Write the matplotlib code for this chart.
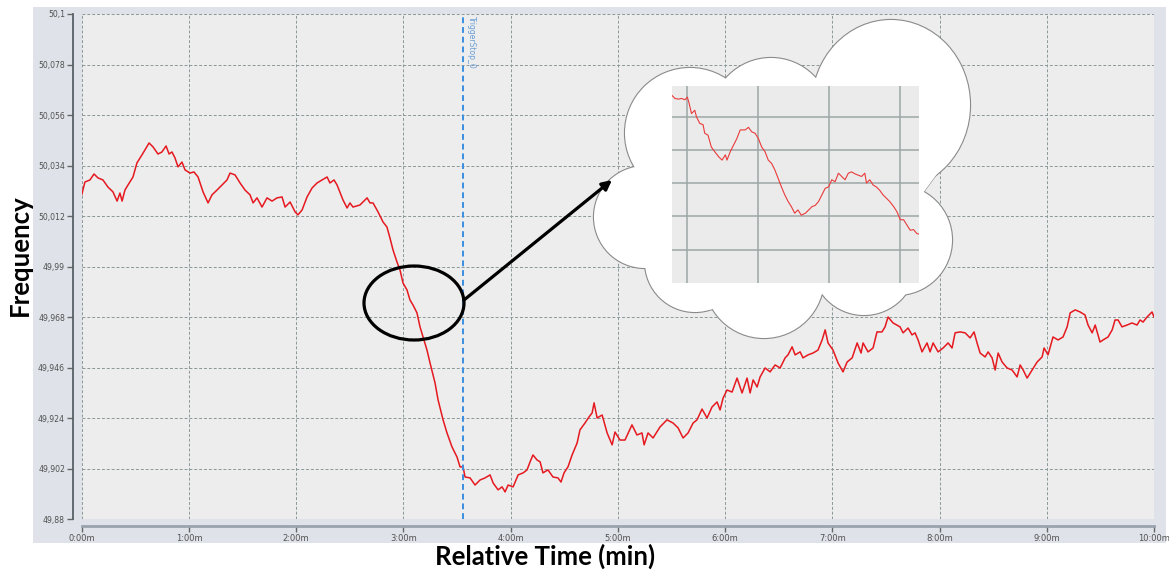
import numpy as np
import matplotlib.pyplot as plt
from matplotlib.patches import Circle, Ellipse, Polygon

#tick label styles
plt.rc('xtick', labelsize=6, color='#666666', labelcolor='#505050')
plt.rc('ytick', labelsize=5.6, color='#666666', labelcolor='#505050')

# frequency trace, time in seconds after start, frequency in Hz
time_s = [0.0, 1.8, 4.6, 6.9, 9.1, 11.9, 14.7, 17.5, 19.8, 21.4,
          22.6, 24.2, 25.9, 28.7, 30.9, 33.7, 37.7, 39.9, 42.7, 44.9,
          47.2, 48.9, 50.5, 52.2, 53.9, 56.1, 57.8, 60.6, 62.8, 65.1,
          67.9, 70.7, 72.9, 75.7, 78.5, 81.3, 83.0, 85.8, 88.6, 91.4,
          94.2, 95.9, 98.1, 100.9, 103.7, 106.5, 109.3, 112.1, 113.8, 116.6,
          119.4, 121.0, 123.3, 126.1, 128.9, 131.7, 134.5, 137.3, 138.9, 141.2,
          142.9, 146.2, 148.5, 150.1, 151.8, 155.7, 159.7, 161.3, 163.0, 165.8,
          168.6, 170.8, 172.5, 174.2, 176.4, 178.1, 179.8, 182.0, 183.7, 185.4,
          187.6, 189.3, 191.0, 193.2, 194.9, 197.7, 199.4, 202.2, 204.4, 207.2,
          210.0, 211.7, 213.4,
          214.5, 217.3, 220.1, 222.9, 225.7, 228.5, 230.2, 233.0, 235.2, 236.9,
          238.6, 241.4, 244.2, 247.0, 249.2, 250.9, 252.5, 254.8, 256.5, 258.1,
          260.9, 263.7, 266.5, 268.2, 269.9, 272.1, 274.4, 277.2, 278.8, 281.6,
          283.9, 285.6, 286.7, 288.4, 291.2, 294.0, 296.8, 298.4, 301.2, 304.0,
          307.9, 310.7, 313.5, 314.7, 316.9, 319.7, 323.6, 327.5, 330.9, 333.7,
          336.5, 339.3, 342.1, 344.3, 347.1, 349.9, 352.7, 355.5, 357.2, 358.9,
          361.1, 363.9, 366.7, 369.5, 372.3, 374.0, 375.7, 377.9, 379.6, 382.4,
          385.2, 388.0, 390.8, 393.6, 395.2, 397.5, 399.2, 402.0, 403.6, 406.4,
          409.2, 412.0, 414.3, 416.0, 417.6, 420.4, 423.2, 426.0, 428.3, 431.1,
          433.9, 436.1, 437.2, 440.0, 442.8, 445.0, 447.8, 449.5, 451.2, 454.0,
          457.9, 459.6, 462.4, 464.6, 466.3, 468.0, 470.2, 473.0, 474.7, 476.4,
          479.2, 482.0, 484.8, 487.0, 488.7, 491.5, 494.3, 497.1, 499.3, 501.0,
          502.7, 505.5, 507.2, 509.4, 511.1, 512.8, 515.0, 517.8, 520.6, 523.4,
          525.1, 526.8, 529.0, 531.8, 534.6, 537.4, 538.5, 540.7, 543.5, 546.3,
          549.1, 551.4, 553.1, 555.9, 558.6, 561.4, 563.1, 565.4, 567.1, 569.8,
          571.5, 574.3, 576.6, 578.2, 579.9, 582.1, 584.9, 587.7, 590.5, 592.2,
          593.9, 596.1, 598.9, 600.0]

freq_hz = [50.0212, 50.0268, 50.0277, 50.0303, 50.0286, 50.0277, 50.0246, 50.0225, 50.0185, 50.0220,
           50.0185, 50.0233, 50.0255, 50.0290, 50.0351, 50.0386, 50.0438, 50.0421, 50.0390, 50.0399,
           50.0425, 50.0390, 50.0399, 50.0373, 50.0334, 50.0355, 50.0321, 50.0307, 50.0312, 50.0290,
           50.0225, 50.0177, 50.0212, 50.0233, 50.0255, 50.0277, 50.0307, 50.0299, 50.0264, 50.0233,
           50.0212, 50.0177, 50.0199, 50.0159, 50.0199, 50.0185, 50.0199, 50.0203, 50.0159, 50.0181,
           50.0138, 50.0125, 50.0146, 50.0203, 50.0242, 50.0264, 50.0277, 50.0290, 50.0264, 50.0277,
           50.0255, 50.0190, 50.0155, 50.0177, 50.0159, 50.0168, 50.0199, 50.0177, 50.0177, 50.0138,
           50.0094, 50.0072, 50.0024, 49.9972, 49.9920, 49.9885, 49.9828, 49.9798, 49.9754, 49.9732,
           49.9698, 49.9637, 49.9593, 49.9536, 49.9480, 49.9393, 49.9319, 49.9232, 49.9175, 49.9114,
           49.9070, 49.9027, 49.9027,
           49.8983, 49.8979, 49.8948, 49.8970, 49.8979, 49.8992, 49.8957, 49.8927, 49.8940, 49.8918,
           49.8948, 49.8940, 49.8992, 49.9001, 49.9014, 49.9049, 49.9079, 49.9057, 49.9049, 49.9001,
           49.9014, 49.8983, 49.8979, 49.8961, 49.9001, 49.9027, 49.9079, 49.9131, 49.9188, 49.9218,
           49.9245, 49.9262, 49.9306, 49.9240, 49.9253, 49.9175, 49.9123, 49.9179, 49.9144, 49.9144,
           49.9210, 49.9166, 49.9175, 49.9123, 49.9175, 49.9153, 49.9201, 49.9232, 49.9218, 49.9197,
           49.9153, 49.9175, 49.9218, 49.9232, 49.9279, 49.9240, 49.9288, 49.9310, 49.9275, 49.9327,
           49.9362, 49.9353, 49.9414, 49.9349, 49.9414, 49.9349, 49.9406, 49.9375, 49.9419, 49.9458,
           49.9441, 49.9471, 49.9458, 49.9502, 49.9515, 49.9550, 49.9515, 49.9528, 49.9502, 49.9515,
           49.9523, 49.9536, 49.9580, 49.9624, 49.9567, 49.9536, 49.9480, 49.9441, 49.9484, 49.9502,
           49.9567, 49.9523, 49.9567, 49.9528, 49.9545, 49.9615, 49.9615, 49.9637, 49.9680, 49.9654,
           49.9637, 49.9611, 49.9632, 49.9602, 49.9611, 49.9580, 49.9528, 49.9567, 49.9528, 49.9567,
           49.9528, 49.9545, 49.9567, 49.9545, 49.9611, 49.9615, 49.9611, 49.9589, 49.9615, 49.9567,
           49.9523, 49.9506, 49.9528, 49.9502, 49.9449, 49.9523, 49.9484, 49.9458, 49.9449, 49.9419,
           49.9471, 49.9449, 49.9414, 49.9449, 49.9484, 49.9506, 49.9545, 49.9515, 49.9593, 49.9580,
           49.9593, 49.9637, 49.9698, 49.9711, 49.9702, 49.9689, 49.9645, 49.9611, 49.9645, 49.9571,
           49.9580, 49.9593, 49.9624, 49.9667, 49.9667, 49.9637, 49.9645, 49.9654, 49.9645, 49.9667,
           49.9658, 49.9680, 49.9702, 49.9680]

trigger_s = 213.4
trigger_label = 'TriggerStop_0'

freq_ticks = [49.88, 49.902, 49.924, 49.946, 49.968, 49.99, 50.012, 50.034, 50.056, 50.078, 50.1]
freq_ticklabels = ['49,88', '49,902', '49,924', '49,946', '49,968', '49,99',
                   '50,012', '50,034', '50,056', '50,078', '50,1']
time_ticks = [0, 60, 120, 180, 240, 300, 360, 420, 480, 540, 600]
time_ticklabels = ['0:00m', '1:00m', '2:00m', '3:00m', '4:00m', '5:00m',
                   '6:00m', '7:00m', '8:00m', '9:00m', '10:00m']

# zoomed detail shown in the cloud
inset_t = [170.0, 170.4, 170.8, 171.2, 171.6, 171.9, 172.1, 172.4, 172.8, 173.0,
           173.4, 173.8, 174.0, 174.4, 174.8, 175.2, 175.7, 176.1, 176.5, 176.7,
           177.1, 177.5, 177.9, 178.3, 178.9, 179.3, 179.7, 180.1, 180.5, 180.9,
           181.3, 181.7, 182.1, 182.5, 182.9, 183.3, 183.7, 184.1, 184.5, 184.9,
           185.3, 185.7, 186.2, 186.6, 187.0, 187.4, 187.8, 188.2, 188.6, 189.0,
           189.4, 189.8, 190.2, 190.6, 191.0, 191.4, 191.8, 192.2, 192.6, 193.0,
           193.4, 193.6, 194.0, 194.4, 194.8, 195.2, 195.6, 196.0, 196.4, 196.9,
           197.3, 197.7, 198.1, 198.5, 198.9, 199.3, 199.7, 200.0]
inset_f = [49.9886, 49.9881, 49.9880, 49.9881, 49.9879, 49.9883, 49.9874, 49.9858, 49.9863, 49.9853,
           49.9843, 49.9841, 49.9828, 49.9825, 49.9807, 49.9800, 49.9792, 49.9787, 49.9795, 49.9787,
           49.9800, 49.9810, 49.9820, 49.9833, 49.9833, 49.9837, 49.9830, 49.9828, 49.9820, 49.9807,
           49.9800, 49.9787, 49.9782, 49.9772, 49.9759, 49.9746, 49.9734, 49.9724, 49.9716, 49.9706,
           49.9711, 49.9703, 49.9706, 49.9711, 49.9716, 49.9718, 49.9724, 49.9734, 49.9744, 49.9746,
           49.9757, 49.9754, 49.9767, 49.9762, 49.9757, 49.9767, 49.9769, 49.9766, 49.9764, 49.9762,
           49.9767, 49.9752, 49.9757, 49.9749, 49.9746, 49.9741, 49.9734, 49.9729, 49.9724, 49.9716,
           49.9708, 49.9696, 49.9696, 49.9688, 49.9680, 49.9681, 49.9675, 49.9674]
inset_xgrid = [171.9, 180.5, 189.1, 197.7]
inset_ygrid = [49.9853, 49.9802, 49.9752, 49.9701, 49.9650]

W, H = 1169, 573
fig = plt.figure(figsize=(W / 100, H / 100), dpi=100)
fig.patch.set_facecolor('white')

# light panel behind the chart
bg = fig.add_axes([33 / W, 1 - 543 / H, (1166 - 33) / W, (543 - 7) / H], zorder=-5)
bg.set_facecolor('#dfe3e9')
bg.set_xticks([])
bg.set_yticks([])
for s in bg.spines.values():
    s.set_visible(False)

ax = fig.add_axes([81.7 / W, 1 - 519 / H, (1154 - 81.7) / W, (519 - 14) / H], zorder=0)
ax.set_facecolor('#ededed')
ax.plot(time_s, freq_hz, color='#e5191f', lw=1.1, zorder=3)
ax.axvline(trigger_s, color='#3b8fe0', lw=1.4, ls=(0, (3, 2)), zorder=4)
ax.text(trigger_s + 2, 50.099, trigger_label, rotation=270, ha='left', va='top',
        fontsize=5.5, color='#6a9fd6', zorder=4)

ax.set_xlim(0, 600)
ax.set_ylim(49.88, 50.1)
ax.tick_params(axis='both', length=4, width=1, pad=2)
ax.tick_params(axis='x', pad=1.5)
ax.set_xticks(time_ticks)
ax.set_xticklabels(time_ticklabels, family='DejaVu Sans Mono')
ax.set_yticks(freq_ticks)
ax.set_yticklabels(freq_ticklabels)
ax.grid(True, color='#8b9898', lw=0.7, ls=(0, (3, 2)))
for s in ['top', 'right']:
    ax.spines[s].set_visible(False)
ax.spines['left'].set_position(('outward', 6))
ax.spines['bottom'].set_position(('outward', 5))
ax.spines['left'].set_color('#5a6068')
ax.spines['left'].set_linewidth(1.3)
ax.spines['bottom'].set_color('#9aa3ad')
ax.spines['bottom'].set_linewidth(2)

fig.text(20 / W, 1 - 255 / H, 'Frequency', rotation=90, ha='center', va='center',
         family='Lato', fontweight='bold', fontsize=18.5)
fig.text(545 / W, 1 - 556 / H, 'Relative Time (min)', ha='center', va='center',
         family='Lato', fontweight='bold', fontsize=18.5)

# overlay in pixel units for the callout
ov = fig.add_axes([0, 0, 1, 1], zorder=5)
ov.set_xlim(0, W)
ov.set_ylim(H, 0)
ov.axis('off')
ov.patch.set_alpha(0)

ov.add_patch(Ellipse((414, 303), 100, 74, fill=False, edgecolor='black', lw=2.3))
ov.annotate('', xy=(612, 180), xytext=(464, 300),
            arrowprops=dict(arrowstyle='-|>', color='black', lw=2.3,
                            mutation_scale=14, shrinkA=0, shrinkB=0))

# cloud: outline of the lobes first, white fill on top
lobes = [((690, 133), 130, 130), ((771, 118), 120, 120), ((891, 105), 158, 170),
         ((897, 240), 110, 110), ((864, 263), 104, 104), ((764, 278), 120, 120),
         ((695, 262), 100, 100), ((645, 217), 102, 102)]
core = [(640, 167), (690, 133), (728, 80), (771, 118), (812, 77), (891, 105), (964, 137),
        (923, 193), (897, 240), (910, 285), (864, 263), (818, 297), (764, 278),
        (710, 310), (695, 262), (648, 268), (645, 217)]
for c, w, h in lobes:
    ov.add_patch(Ellipse(c, w, h, facecolor='none', edgecolor='#8a8a8a', lw=1.6, zorder=1))
ov.plot([964, 923], [137, 193], color='#8a8a8a', lw=0.8, zorder=1)
for c, w, h in lobes:
    ov.add_patch(Ellipse(c, w, h, facecolor='white', edgecolor='none', zorder=2))
ov.add_patch(Polygon(core, closed=True, facecolor='white', edgecolor='none', zorder=2))

ins = fig.add_axes([671.7 / W, 1 - 282.7 / H, 247.6 / W, 196.7 / H], zorder=10)
ins.set_facecolor('#ebebeb')
for gx in inset_xgrid:
    ins.axvline(gx, color='#9ea6a6', lw=1.1, zorder=1)
for gy in inset_ygrid:
    ins.axhline(gy, color='#9ea6a6', lw=1.1, zorder=1)
ins.plot(inset_t, inset_f, color='#ea3a3a', lw=0.8, zorder=2)
ins.set_xlim(170, 200)
ins.set_ylim(49.96, 49.99)
ins.set_xticks([])
ins.set_yticks([])
for s in ins.spines.values():
    s.set_visible(False)

fig.savefig('out.png', dpi=100)
